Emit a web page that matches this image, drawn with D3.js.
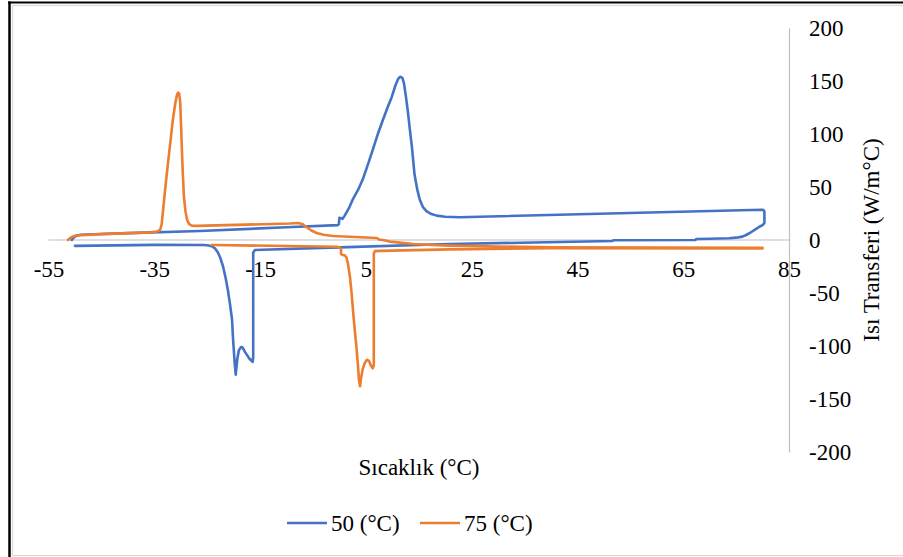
<!DOCTYPE html>
<html>
<head>
<meta charset="utf-8">
<script src="https://cdn.jsdelivr.net/npm/d3@7"></script>
<style>
  body { margin: 0; background: #fff; }
  svg { display: block; }
</style>
</head>
<body>
<svg id="chart" width="903" height="557"></svg>
<script>
var FONT = "'Liberation Serif', 'Times New Roman', Tinos, 'DejaVu Serif', 'Noto Serif', serif";

// tick labels
var xTicks = [-55, -35, -15, 5, 25, 45, 65, 85];
var yTicks = [200, 150, 100, 50, 0, -50, -100, -150, -200];

// 50 (°C) run: heating (upper branch) then cooling (lower branch)
var blueTemp = [-50.6, -50.3, -49.8, -49.0, -40, -26.4, -10, -0.3, -0.1, 0.0, 0.4, 0.6, 1.0, 1.8, 2.5, 3.5, 4.4, 5.3, 6.3, 7.2, 8.2, 9.1, 9.9, 10.6, 11.1, 11.5, 11.9, 12.2, 12.5, 12.9, 13.3, 13.7, 14.2, 14.7, 15.2, 15.8, 16.5, 17.4, 18.4, 20, 22.7,
  79.8, 80.2, 80.35, 80.35, 80.0, 79.4, 78.5, 77.6, 76.8, 76.2, 75, 73.7, 70, 67.5, 67.3, 51.8, 51.6, 20.8, 0, -16.0,
  -16.3, -16.3, -16.4, -17.0, -17.8, -18.3, -18.6, -19.0, -19.3, -19.6, -19.8, -20.1, -20.3, -20.7, -21.1, -21.5, -22.0, -22.5, -23.0, -23.5, -24.0, -24.7, -25.6, -35, -50.0];
var blueHeat = [0, 2, 3.8, 5.0, 6.5, 8.5, 12, 14, 15, 21, 20.5, 20, 23, 30, 38, 47, 57, 70, 85, 99, 113, 125, 135, 146, 152, 154, 153, 148, 138, 123, 105, 88, 62, 48, 38, 31, 27, 24.5, 23, 22, 21.5,
  28.6, 28.2, 27, 16, 14, 12.5, 9.5, 6.6, 4.5, 3.2, 2.2, 1.6, 1.2, 1.0, 0, -0.3, -1.0, -3.8, -7, -9.5,
  -12, -110, -115, -112, -106, -101.5, -101, -104, -112, -127, -116, -94, -75, -60, -47, -36, -25, -17, -11.5, -8, -6.2, -5.2, -4.7, -4.6, -5.5];

// 75 (°C) run
var orangeTemp = [-51.3, -51.0, -50.5, -49.8, -45, -35.8, -34.5, -33.9, -33.6, -33.4, -32.9, -32.4, -31.9, -31.5, -31.0, -30.7, -30.5, -30.3, -30.1, -29.95, -29.8, -29.6, -29.4, -29.1, -28.8, -28.4, -27.9, -27,
  -9.4, -7.8, -7.0, -6.2, -5.3, -4.3, -3, -1.25, 3, 7.06, 7.5, 8.2, 9.5, 11.4, 14, 17.6, 20.9, 39.7, 80,
  80, 39.7, 20.9, 10, 7.6, 6.7, 6.5, 6.5, 6.3, 5.9, 5.6, 5.2, 4.8, 4.4, 4.1, 3.9, 3.7, 3.5, 3.2, 2.9, 2.6, 2.3, 2.0, 1.6, 1.3, 1.0, 0.5, 0.3, 0.3, 0.07, -0.5, -24.1];
var orangeHeat = [0, 1.5, 3, 4.2, 5.5, 7.2, 8, 9.4, 15, 25, 50, 73, 95, 113, 130, 137, 139, 138, 130, 110, 88, 62, 41, 27, 19, 15, 13.5, 13.3,
  15.5, 16, 15, 12, 9, 6.6, 5, 3.8, 2.8, 1.9, 0.5, 0, -1.5, -2.5, -3.8, -4.7, -5.3, -7, -7.3,
  -8.0, -7.8, -8.8, -10, -10.3, -10.5, -13, -118, -121, -118, -114, -113, -116, -122, -130, -138, -132, -118, -100, -85, -68, -50, -35, -22, -16, -14.5, -14, -13, -8.5, -7.0, -6.3, -4.7];

var series = [
  {name: "50 (°C)", color: "#4472C4", temp: blueTemp, heat: blueHeat},
  {name: "75 (°C)", color: "#ED7D31", temp: orangeTemp, heat: orangeHeat}
];

var svg = d3.select("#chart");

// frame
svg.append("rect").attr("x", 12.5).attr("y", 5.5).attr("width", 900).attr("height", 550)
  .attr("fill", "none").attr("stroke", "#d9d9d9").attr("stroke-width", 1.2);
svg.append("line").attr("x1", 9.5).attr("x2", 9.5).attr("y1", 1.5).attr("y2", 557)
  .attr("stroke", "#000").attr("stroke-width", 2.5);
svg.append("line").attr("x1", 8).attr("x2", 903).attr("y1", 2.5).attr("y2", 2.5)
  .attr("stroke", "#000").attr("stroke-width", 1.8);

var x = d3.scaleLinear().domain([-55, 85]).range([48.5, 789]);
var y = d3.scaleLinear().domain([-200, 200]).range([452, 28]);

// zero line
svg.append("line").attr("x1", x(-55)).attr("x2", x(85)).attr("y1", y(0)).attr("y2", y(0))
  .attr("stroke", "#bfbfbf").attr("stroke-width", 1.2);

var xAxis = svg.append("g").attr("transform", "translate(0," + y(0) + ")")
  .call(d3.axisBottom(x).tickValues(xTicks).tickSize(0).tickPadding(21).tickFormat(d3.format("d")));
xAxis.select(".domain").remove();

var yAxis = svg.append("g").attr("transform", "translate(" + x(85) + ",0)")
  .call(d3.axisRight(y).tickValues(yTicks).tickSize(0).tickSizeOuter(0).tickPadding(20).tickFormat(d3.format("d")));
yAxis.select(".domain").attr("stroke", "#bfbfbf").attr("stroke-width", 1.2);

svg.selectAll("g").attr("font-family", null);
svg.selectAll(".tick text").style("font-family", FONT).attr("font-size", 23).attr("fill", "#000")
  .text(function(d){ return String(d); });

// axis titles
svg.append("text").attr("x", 419).attr("y", 475).attr("text-anchor", "middle")
  .style("font-family", FONT).attr("font-size", 23).text("Sıcaklık (°C)");
svg.append("text").attr("transform", "translate(879,240) rotate(-90)").attr("text-anchor", "middle")
  .style("font-family", FONT).attr("font-size", 23).text("Isı Transferi (W/m°C)");

// curves
var line = d3.line()
  .x(function(d){ return x(d[0]); })
  .y(function(d){ return y(d[1]); });

series.forEach(function(s){
  var pts = s.temp.map(function(t, i){ return [t, s.heat[i]]; });
  svg.append("path").datum(pts)
    .attr("d", line)
    .attr("fill", "none")
    .attr("stroke", s.color)
    .attr("stroke-width", 2.6)
    .attr("stroke-linejoin", "round")
    .attr("stroke-linecap", "round");
});

// legend
var legendX = [287, 420];
series.forEach(function(s, i){
  var g = svg.append("g").attr("transform", "translate(" + legendX[i] + ",523)");
  g.append("line").attr("x1", 0).attr("x2", 40).attr("stroke", s.color).attr("stroke-width", 2.6);
  g.append("text").attr("x", 44).attr("dy", "0.35em").style("font-family", FONT).attr("font-size", 23).text(s.name);
});
</script>
</body>
</html>
